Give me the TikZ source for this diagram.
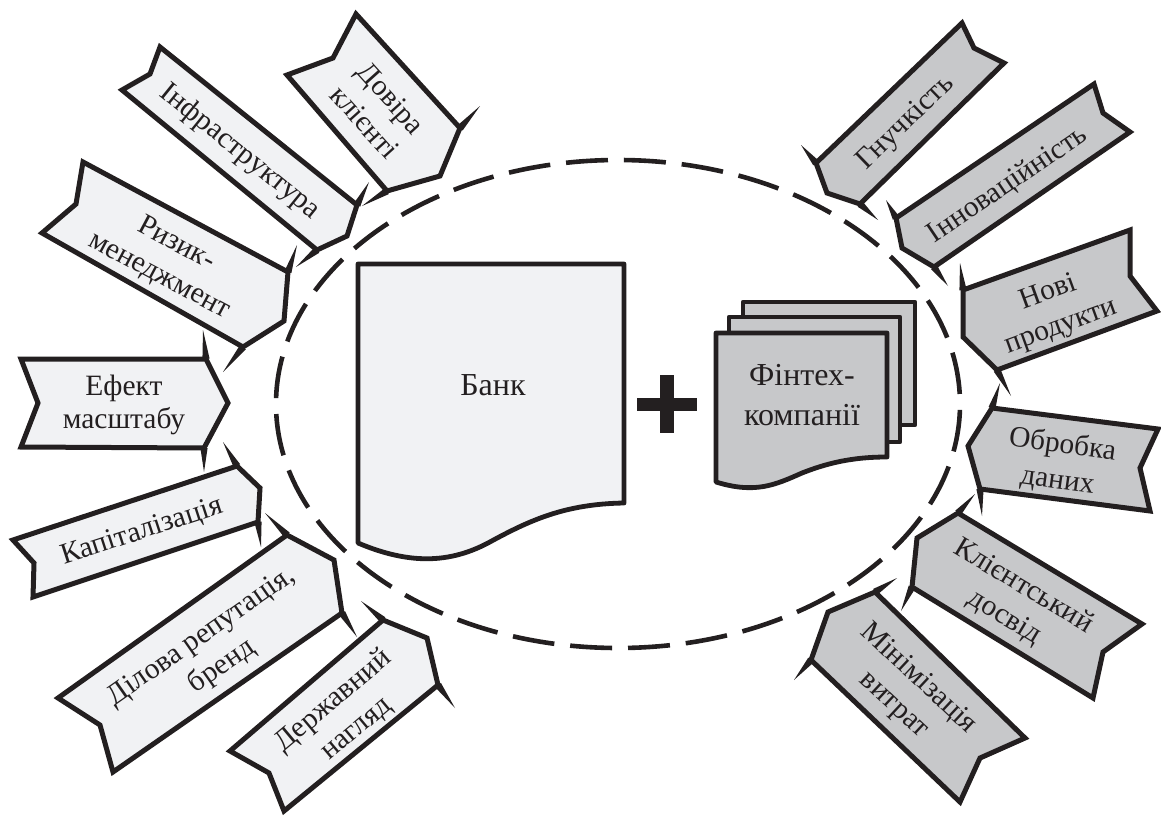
\documentclass[tikz,border=0pt]{standalone}
\usepackage{fontspec}
\setmainfont{Liberation Serif}
\usetikzlibrary{calc}
\definecolor{ink}{HTML}{231F20}
\definecolor{pale}{HTML}{F1F2F4}
\definecolor{midgray}{HTML}{C7C8CA}
\tikzset{
  x=1pt,y=-1pt,
  outline/.style={draw=ink,line width=5pt,miter limit=10},
  doc/.style={draw=ink,line width=4.8pt,line join=round},
  label/.style={text=ink,align=center,inner sep=0pt,font=\fontsize{29.5}{36}\selectfont},
  tightlabel/.style={text=ink,align=center,inner sep=0pt,font=\fontsize{29.5}{32.5}\selectfont},
  biglabel/.style={text=ink,align=center,inner sep=0pt,font=\fontsize{32}{40}\selectfont},
}
\newcommand\barb[2]{\fill[ink] ($#1!3.6pt!90:#2$) -- #2 -- ($#1!3.6pt!-90:#2$) -- cycle;}
% tail top, notch, tail bottom, lower end, head point, upper end, lower spike, upper spike, fill
\newcommand\ribbon[9]{%
  \draw[outline,fill=#9] #1 -- #2 -- #3 -- #4 -- #5 -- #6 -- cycle;
  \barb{#4}{#7}\barb{#6}{#8}}
\begin{document}
\begin{tikzpicture}
\useasboundingbox (0,0) rectangle (1161,816);
% ellipse
\draw[draw=ink,line width=4.6pt,dash pattern=on 42pt off 15.94pt,dash phase=52pt] (618,404) ellipse [x radius=342,y radius=244];
% left ribbons
\ribbon{(356,14)}{(333,58)}{(287,75)}{(387,191)}{(440,176)}{(460,128)}{(362,206)}{(480,106)}{pale}
\ribbon{(160,47)}{(150,74)}{(122,90)}{(317,250)}{(347,236)}{(357,205)}{(296,267)}{(369,182)}{pale}
\ribbon{(83,162)}{(76,204)}{(42,233)}{(243,347)}{(284,321)}{(288,272)}{(223,372)}{(297,245)}{pale}
\ribbon{(21,359)}{(38,403)}{(21,447)}{(204,448)}{(228,403)}{(206,359)}{(204,472)}{(203,330)}{pale}
\ribbon{(13,540)}{(34,563)}{(33,597)}{(258,522)}{(260,488)}{(237,466)}{(261,547)}{(223,442)}{pale}
\ribbon{(58,698)}{(100,725)}{(113,772)}{(342,613)}{(334,560)}{(287,535)}{(357,637)}{(265,513)}{pale}
\ribbon{(230,751)}{(269,773)}{(284,811)}{(438,685)}{(427,638)}{(383,620)}{(455,708)}{(361,601)}{pale}
% right ribbons
\ribbon{(962,23)}{(974,48)}{(1004,63)}{(860,204)}{(827,193)}{(816,163)}{(878,220)}{(801,145)}{midgray}
\ribbon{(1094,84)}{(1103,113)}{(1130,132)}{(934,267)}{(902,248)}{(896,218)}{(948,286)}{(886,200)}{midgray}
\ribbon{(1130,230)}{(1130,276)}{(1157,311)}{(997,370)}{(963,337)}{(963,290)}{(1011,396)}{(960,263)}{midgray}
\ribbon{(1158,429)}{(1140,468)}{(1150,511)}{(980,489)}{(968,446)}{(992,408)}{(982,516)}{(1000,383)}{midgray}
\ribbon{(1142,624)}{(1103,652)}{(1093,698)}{(912,587)}{(917,538)}{(958,513)}{(901,611)}{(975,494)}{midgray}
\ribbon{(1025,738)}{(980,758)}{(960,802)}{(811,660)}{(828,612)}{(875,592)}{(794,680)}{(897,578)}{midgray}
% documents
\draw[doc,fill=pale] (358,264) -- (624,264) -- (624,503) .. controls (565,504) and (530,520) .. (488,543) .. controls (450,563) and (410,565) .. (358,543) -- cycle;
\draw[doc,fill=midgray] (743,302) -- (915,302) -- (915,425) -- (743,425) -- cycle;
\draw[doc,fill=midgray] (729,317) -- (900,317) -- (900,442) -- (729,442) -- cycle;
\draw[doc,fill=midgray] (716,333) -- (887,333) -- (887,457) .. controls (850,457) and (825,464) .. (802,473) .. controls (775,485) and (755,494) .. (716,482) -- cycle;
% plus
\fill[ink] (637,398) rectangle (697,411);
\fill[ink] (660,375) rectangle (674,433);
% labels
\node[biglabel] (bank) at (493,385) {Банк};
\node[biglabel] (fintech) at (802,395) {Фінтех-\\компанії};
\node[label,rotate=-48] (l1) at (378,110) {Довіра\\клієнті};
\node[label,rotate=-39] (l2) at (240,152) {Інфраструктура};
\node[label,rotate=-28] (l3) at (168,260) {Ризик-\\менеджмент};
\node[tightlabel] (l4) at (124,405) {Ефект\\масштабу};
\node[label,rotate=18] (l5) at (142,532) {Капіталізація};
\node[label,rotate=35] (l6) at (212,652) {Ділова репутація,\\бренд};
\node[label,rotate=40] (l7) at (345,715) {Державний\\нагляд};
\node[label,rotate=44] (r1) at (906,123) {Гнучкість};
\node[label,rotate=34] (r2) at (1008,185) {Інноваційність};
\node[label,rotate=20] (r3) at (1055,310) {Нові\\продукти};
\node[label,rotate=-8] (r4) at (1060,463) {Обробка\\даних};
\node[label,rotate=-31] (r5) at (1014,602) {Клієнтський\\досвід};
\node[label,rotate=-43] (r6) at (906,692) {Мінімізація\\витрат};
\end{tikzpicture}
\end{document}
